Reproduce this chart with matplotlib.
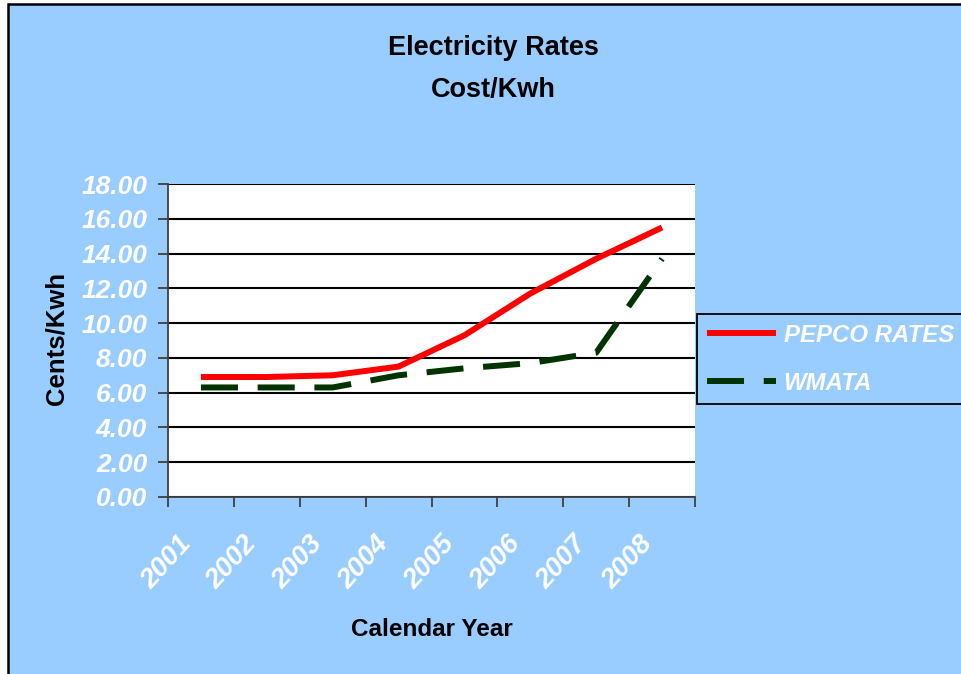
import matplotlib
matplotlib.use("Agg")
import matplotlib.pyplot as plt
import matplotlib.transforms as mtransforms
from matplotlib.patches import Rectangle
import numpy as np

years = ["2001", "2002", "2003", "2004", "2005", "2006", "2007", "2008"]
pepco = [6.9, 6.9, 7.0, 7.5, 9.3, 11.7, 13.7, 15.5]
wmata = [6.3, 6.3, 6.3, 7.0, 7.4, 7.7, 8.3, 13.7]
yticks = [0, 2, 4, 6, 8, 10, 12, 14, 16, 18]

plt.rcParams['font.family'] = ['Liberation Sans', 'DejaVu Sans']

W, H = 961, 674
fig = plt.figure(figsize=(W / 100, H / 100), dpi=100, facecolor='white')

BLUE = '#99CCFF'
bg = Rectangle((8 / W, -0.1), 1.2, 1.1 - 4 / H, transform=fig.transFigure,
               facecolor=BLUE, edgecolor='black', linewidth=1.8, zorder=-10)
fig.patches.append(bg)

ax = fig.add_axes([168 / W, 1 - 497 / H, (695 - 168) / W, (497 - 184) / H])
ax.set_facecolor('white')

x = np.arange(len(years)) + 0.5
ax.plot(x, pepco, color='#FF0000', linewidth=4.3, label='PEPCO RATES',
        solid_capstyle='butt', solid_joinstyle='round', zorder=3)
ax.plot(x, wmata, color='#003300', linewidth=4.3, label='WMATA',
        dashes=(6.2, 3.3), dash_capstyle='butt', zorder=3)

ax.set_xlim(0, len(years))
ax.set_ylim(0, 18)
ax.set_yticks(yticks)
ax.set_yticklabels([f"{v:.2f}" for v in yticks])
ax.yaxis.grid(True, color='black', linewidth=1.5)
ax.set_axisbelow(True)

ax.set_xticks(np.arange(len(years) + 1))
ax.set_xticklabels([])
ax.set_xticks(x, minor=True)
ax.set_xticklabels(years, minor=True)

for s in ['top', 'right']:
    ax.spines[s].set_visible(False)
for s in ['left', 'bottom']:
    ax.spines[s].set_color('#404040')
    ax.spines[s].set_linewidth(1.3)

ax.tick_params(axis='y', which='major', direction='out', length=7, width=1.3,
               color='#404040', pad=8, labelcolor='white', labelsize=19)
ax.tick_params(axis='x', which='major', direction='out', length=7, width=1.3,
               color='#404040')
ax.tick_params(axis='x', which='minor', length=0, pad=31, labelcolor='white',
               labelsize=20)

for lab in ax.get_yticklabels():
    lab.set_fontweight('bold')
    lab.set_fontstyle('italic')

offset = mtransforms.ScaledTranslation(-14 / 100, 0, fig.dpi_scale_trans)
for lab in ax.get_xticklabels(minor=True):
    lab.set_fontweight('bold')
    lab.set_fontstyle('italic')
    lab.set_rotation(48)
    lab.set_ha('right')
    lab.set_va('center')
    lab.set_rotation_mode('anchor')
    lab.set_transform(lab.get_transform() + offset)

ax.set_ylabel('Cents/Kwh', fontsize=18.5, fontweight='bold', color='black')
ax.yaxis.set_label_coords(-0.188, 0.508)
ax.set_xlabel('Calendar Year', fontsize=17.5, fontweight='bold', color='black')
ax.xaxis.set_label_coords(0.5, -0.385)

fig.text(493 / W, 1 - 69 / H, 'Electricity Rates\nCost/Kwh', ha='center',
         va='center', fontsize=19.5, fontweight='bold', linespacing=1.8)

leg = fig.legend(loc='upper left', bbox_to_anchor=(697 / W, 1 - 314 / H),
                 frameon=True, fancybox=False, edgecolor='black',
                 facecolor=BLUE, framealpha=1, borderpad=0.4,
                 handlelength=2.9, handletextpad=0.3,
                 labelspacing=1.05, borderaxespad=0,
                 prop={'size': 17.3, 'weight': 'bold', 'style': 'italic'})
leg.get_frame().set_linewidth(1.3)
for t in leg.get_texts():
    t.set_color('white')

fig.savefig('out.png', dpi=100, facecolor='white')
